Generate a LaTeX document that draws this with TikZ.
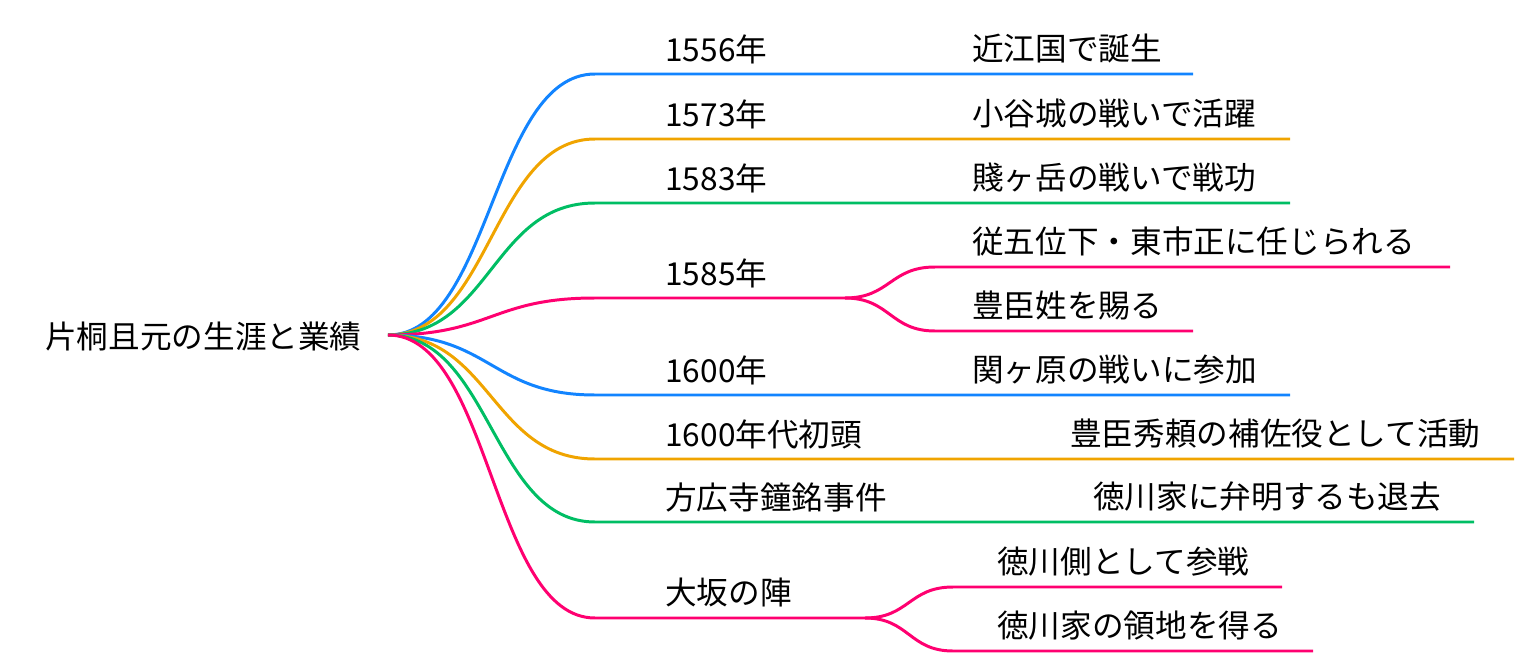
\documentclass[tikz,border=0pt]{standalone}
\usepackage{fontspec}
\setmainfont{Noto Sans CJK JP}
\definecolor{mmblue}{RGB}{18,132,255}
\definecolor{mmorange}{RGB}{240,164,0}
\definecolor{mmgreen}{RGB}{0,190,100}
\definecolor{mmpink}{RGB}{255,0,112}
\begin{document}
\begin{tikzpicture}[x=0.02cm,y=-0.02cm,anchor=west,
  lbl/.style={font=\fontsize{18}{22}\selectfont,inner sep=0pt},
  br/.style={line width=1.7pt}]
\useasboundingbox (0,0) rectangle (1534,672);
% root
\node[lbl] (root) at (45,337) {片桐且元の生涯と業績};
\coordinate (r) at (388,335);
% first level
\node[lbl] at (665,49) (y1) {1556年}; \node[lbl] at (972,49) (t1) {近江国で誕生};
\node[lbl] at (665,114) (y2) {1573年}; \node[lbl] at (972,114) (t2) {小谷城の戦いで活躍};
\node[lbl] at (665,178) (y3) {1583年}; \node[lbl] at (972,178) (t3) {賤ヶ岳の戦いで戦功};
\node[lbl] at (665,273) (y4) {1585年};
\node[lbl] at (972,241) (t4a) {従五位下・東市正に任じられる};
\node[lbl] at (972,305) (t4b) {豊臣姓を賜る};
\node[lbl] at (665,370) (y5) {1600年}; \node[lbl] at (972,370) (t5) {関ヶ原の戦いに参加};
\node[lbl] at (665,434) (y6) {1600年代初頭}; \node[lbl] at (1070,434) (t6) {豊臣秀頼の補佐役として活動};
\node[lbl] at (665,497) (y7) {方広寺鐘銘事件}; \node[lbl] at (1093,497) (t7) {徳川家に弁明するも退去};
\node[lbl] at (665,593) (y8) {大坂の陣};
\node[lbl] at (997,562) (t8a) {徳川側として参戦};
\node[lbl] at (997,626) (t8b) {徳川家の領地を得る};
% line points
\coordinate (b1) at (595,74); \coordinate (e1) at (1193,74);
\coordinate (b2) at (595,139); \coordinate (e2) at (1290,139);
\coordinate (b3) at (595,203); \coordinate (e3) at (1290,203);
\coordinate (b4) at (595,298); \coordinate (k4) at (845,298);
\coordinate (c4a) at (935,267); \coordinate (e4a) at (1450,267);
\coordinate (c4b) at (935,331); \coordinate (e4b) at (1193,331);
\coordinate (b5) at (595,395); \coordinate (e5) at (1290,395);
\coordinate (b6) at (595,459); \coordinate (e6) at (1514,459);
\coordinate (b7) at (595,522); \coordinate (e7) at (1474,522);
\coordinate (b8) at (595,618); \coordinate (k8) at (865,618);
\coordinate (c8a) at (953,587); \coordinate (e8a) at (1282,587);
\coordinate (c8b) at (953,651); \coordinate (e8b) at (1313,651);
% branches
\draw[br,mmblue] (r) .. controls +(103,0) and +(-103,0) .. (b1) -- (e1);
\draw[br,mmorange] (r) .. controls +(103,0) and +(-103,0) .. (b2) -- (e2);
\draw[br,mmgreen] (r) .. controls +(103,0) and +(-103,0) .. (b3) -- (e3);
\draw[br,mmpink] (r) .. controls +(103,0) and +(-103,0) .. (b4) -- (k4);
\draw[br,mmpink] (k4) .. controls +(45,0) and +(-45,0) .. (c4a) -- (e4a);
\draw[br,mmpink] (k4) .. controls +(45,0) and +(-45,0) .. (c4b) -- (e4b);
\draw[br,mmblue] (r) .. controls +(103,0) and +(-103,0) .. (b5) -- (e5);
\draw[br,mmorange] (r) .. controls +(103,0) and +(-103,0) .. (b6) -- (e6);
\draw[br,mmgreen] (r) .. controls +(103,0) and +(-103,0) .. (b7) -- (e7);
\draw[br,mmpink] (r) .. controls +(103,0) and +(-103,0) .. (b8) -- (k8);
\draw[br,mmpink] (k8) .. controls +(44,0) and +(-44,0) .. (c8a) -- (e8a);
\draw[br,mmpink] (k8) .. controls +(44,0) and +(-44,0) .. (c8b) -- (e8b);
\end{tikzpicture}
\end{document}
